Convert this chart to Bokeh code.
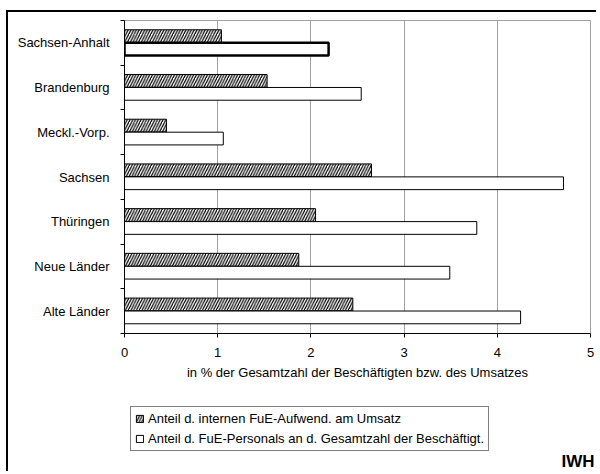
from bokeh.plotting import figure
from bokeh.layouts import column, row
from bokeh.models import (Range1d, FixedTicker, Legend, LegendItem, Label, ColumnDataSource,
                          Spacer, Div)
from bokeh.embed import file_html
from bokeh.resources import INLINE

# ---- data ----
categories = ["Sachsen-Anhalt", "Brandenburg", "Meckl.-Vorp.", "Sachsen",
              "Thüringen", "Neue Länder", "Alte Länder"]
fue_aufwand_umsatz = [1.04, 1.53, 0.45, 2.65, 2.05, 1.87, 2.45]
fue_personal_beschaeftigte = [2.19, 2.54, 1.06, 4.71, 3.78, 3.49, 4.25]
x_ticks = [0, 1, 2, 3, 4, 5]
series_names = ["Anteil d. internen FuE-Aufwend. am Umsatz",
                "Anteil d. FuE-Personals an d. Gesamtzahl der Beschäftigt."]
x_axis_title = "in % der Gesamtzahl der Beschäftigten bzw. des Umsatzes"
source_label = "IWH"

FONT = "Liberation Sans"
n = len(categories)
centers = [n - i - 0.5 for i in range(n)]

HATCH = dict(fill_color="white", line_color="black", line_width=1,
             hatch_pattern="/", hatch_color="black", hatch_scale=5.5, hatch_weight=1.2)
OPEN = dict(fill_color="white", line_color="black")

src = ColumnDataSource(dict(
    cat=categories,
    y_hatch=[c + 0.15 for c in centers],
    y_open=[c - 0.14 for c in centers],
    aufwand=fue_aufwand_umsatz,
    personal=fue_personal_beschaeftigte,
    lw=[2.5 if i == 0 else 1 for i in range(n)],
))

W = 588
P_H = 383
Q_H = 76

# ---------------- main chart ----------------
p = figure(width=W, height=P_H, output_backend="svg", toolbar_location=None,
           x_range=Range1d(0, 5), y_range=Range1d(0, n),
           min_border_left=116, min_border_right=6, min_border_top=8,
           min_border_bottom=62, margin=0)
p.background_fill_color = "white"
p.border_fill_color = "white"
p.outline_line_color = "#a0a0a0"
p.outline_line_width = 1

p.ygrid.grid_line_color = None
p.xgrid.grid_line_color = "#a0a0a0"
p.xgrid.grid_line_width = 1

p.xaxis.ticker = FixedTicker(ticks=x_ticks)
p.xaxis.axis_line_color = "black"
p.xaxis.major_tick_line_color = "black"
p.xaxis.major_tick_out = 4
p.xaxis.major_tick_in = 0
p.xaxis.minor_tick_line_color = None
p.xaxis.major_label_text_font = FONT
p.xaxis.major_label_text_font_size = "13px"
p.xaxis.major_label_text_color = "black"
p.xaxis.major_label_standoff = 10
p.xaxis.axis_label = x_axis_title
p.xaxis.axis_label_text_font = FONT
p.xaxis.axis_label_text_font_size = "13px"
p.xaxis.axis_label_text_font_style = "normal"
p.xaxis.axis_label_text_color = "black"
p.xaxis.axis_label_standoff = 5

p.yaxis.ticker = FixedTicker(ticks=centers, minor_ticks=list(range(n + 1)))
p.yaxis.major_label_overrides = {c: cat for c, cat in zip(centers, categories)}
p.yaxis.major_tick_line_color = None
p.yaxis.major_tick_out = 0
p.yaxis.major_tick_in = 0
p.yaxis.minor_tick_line_color = "black"
p.yaxis.minor_tick_out = 4
p.yaxis.minor_tick_in = 0
p.yaxis.axis_line_color = "black"
p.yaxis.major_label_text_font = FONT
p.yaxis.major_label_text_font_size = "13px"
p.yaxis.major_label_text_color = "black"
p.yaxis.major_label_standoff = 11

h = 0.285
p.hbar(y="y_hatch", right="aufwand", left=0, height=h, source=src, **HATCH)
p.hbar(y="y_open", right="personal", left=0, height=h, source=src,
       line_width="lw", **OPEN)

# ---------------- legend strip ----------------
q = figure(width=W, height=Q_H, output_backend="svg", toolbar_location=None,
           x_range=Range1d(0, 5), y_range=Range1d(0, n),
           x_axis_type=None, y_axis_type=None,
           min_border_left=0, min_border_right=0, min_border_top=0,
           min_border_bottom=0, margin=0)
q.frame_align = False
q.outline_line_color = None
q.xgrid.grid_line_color = None
q.ygrid.grid_line_color = None
q.background_fill_color = "white"
q.border_fill_color = "white"

# hidden copies of the two series, used only for the legend keys
k1 = q.hbar(y="y_hatch", right="aufwand", left=0, height=h, source=src,
            visible=False, **HATCH)
k2 = q.hbar(y="y_open", right="personal", left=0, height=h, source=src,
            visible=False, line_width=1, **OPEN)

legend = Legend(items=[LegendItem(label=series_names[0], renderers=[k1]),
                       LegendItem(label=series_names[1], renderers=[k2])],
                location=(122, 20))
legend.label_text_font = FONT
legend.label_text_font_size = "13px"
legend.label_text_color = "black"
legend.glyph_width = 9
legend.glyph_height = 9
legend.label_standoff = 4
legend.spacing = 5
legend.padding = 4
legend.margin = 0
legend.label_height = 13
legend.border_line_color = "black"
legend.border_line_width = 1
legend.background_fill_alpha = 1
legend.background_fill_color = "white"
legend.inactive_fill_alpha = 0
q.add_layout(legend, "center")

q.add_layout(Label(x=W - 2, y=1, x_units="screen", y_units="screen", text=source_label,
                   text_align="right", text_baseline="bottom",
                   text_font=FONT, text_font_size="17px", text_font_style="bold",
                   text_color="black"))

# outer frame (black left and top edge)
left_bar = Div(width=2, height=2 + P_H + Q_H, margin=0, styles={"background-color": "black"})
top_bar = Div(width=W, height=2, margin=0, styles={"background-color": "black"})

layout = column(Spacer(width=W + 8, height=10, margin=0),
                row(Spacer(width=6, height=10, margin=0), left_bar,
                    column(top_bar, p, q, spacing=0, margin=0), spacing=0, margin=0),
                spacing=0, margin=0)

open("out.html", "w").write(file_html(layout, INLINE))
